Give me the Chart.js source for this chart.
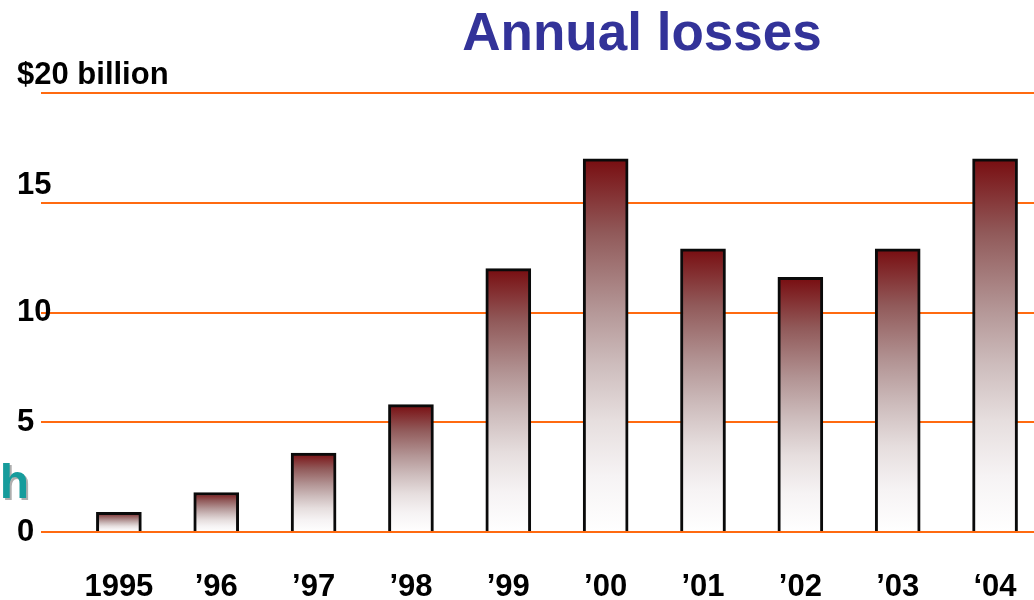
<!DOCTYPE html>
<html>
<head>
<meta charset="utf-8">
<script src="https://cdn.jsdelivr.net/npm/chart.js@4"></script>
<style>
  html, body { margin: 0; padding: 0; background: #fff; }
  #wrap { width: 1034px; height: 600px; }
</style>
</head>
<body>
<div id="wrap"><canvas id="myChart" width="1034" height="600"></canvas></div>
<script>
// data (billions of dollars)
const years = ['1995', '\u201996', '\u201997', '\u201998', '\u201999', '\u201900', '\u201901', '\u201902', '\u201903', '\u201804']
const losses = [0.9, 1.8, 3.6, 5.8, 12.0, 17.0, 12.9, 11.6, 12.9, 17.0]
const yTicks = [0, 5, 10, 15, 20]
const yTickLabels = ['0', '5', '10', '15', '$20 billion']
const titleText = 'Annual losses'
const sideText = 'h'

const FONT = '"Liberation Sans", Arial, sans-serif'

// gradient for every bar, dark red on top to white at the base
function barGradient(c) {
  const chart = c.chart
  const area = chart.chartArea
  if (!area || !c.parsed) return '#c4aeae'
  const y = chart.scales.y
  const top = y.getPixelForValue(c.parsed.y)
  const bottom = y.getPixelForValue(0)
  const g = chart.ctx.createLinearGradient(0, top, 0, bottom)
  g.addColorStop(0, '#780d10')
  g.addColorStop(0.2, '#915a5a')
  g.addColorStop(0.4, '#b39595')
  g.addColorStop(0.55, '#cdbcbc')
  g.addColorStop(0.7, '#e6dede')
  g.addColorStop(0.85, '#f6f3f4')
  g.addColorStop(1, '#ffffff')
  return g
}

// title and the cut-off word on the left
const extraText = {
  id: 'extraText',
  afterDraw(chart) {
    const ctx = chart.ctx
    ctx.save()
    ctx.font = 'bold 53px ' + FONT
    ctx.fillStyle = '#333399'
    ctx.textAlign = 'center'
    ctx.textBaseline = 'alphabetic'
    ctx.fillText(titleText, 642, 50)

    ctx.font = 'bold 48px ' + FONT
    ctx.textAlign = 'right'
    ctx.shadowColor = 'rgba(120,120,120,0.6)'
    ctx.shadowOffsetX = 2
    ctx.shadowOffsetY = 2
    ctx.fillStyle = '#169c9c'
    ctx.fillText(sideText, 29, 498)
    ctx.restore()
  }
}

new Chart(document.getElementById('myChart'), {
  type: 'bar',
  data: {
    datasets: [{
      data: losses.map((v, i) => ({x: i, y: v})),
      backgroundColor: barGradient,
      borderColor: '#0a0a0a',
      borderWidth: 3,
      borderSkipped: 'bottom',
      barThickness: 45
    }]
  },
  plugins: [extraText],
  options: {
    responsive: false,
    animation: false,
    layout: { padding: { top: 93, left: 16, right: 0, bottom: 0 } },
    plugins: {
      legend: { display: false },
      tooltip: { enabled: false }
    },
    scales: {
      x: {
        type: 'linear',
        offset: false,
        min: -0.8,
        max: 9.4,
        grid: { display: false, drawTicks: false, offset: false },
        border: { display: false },
        ticks: {
          stepSize: 1,
          includeBounds: false,
          autoSkip: false,
          maxRotation: 0,
          padding: 37,
          color: '#000',
          font: { family: FONT, size: 31, weight: 'bold' },
          callback: (v) => years[v] ?? ''
        },
        afterFit(scale) {
          scale.height = 68
          scale.paddingLeft = 0
          scale.paddingRight = 0
        }
      },
      y: {
        min: 0,
        max: 20,
        afterBuildTicks(scale) {
          scale.ticks = yTicks.map(v => ({value: v}))
        },
        grid: { color: '#ff6a10', lineWidth: 2, drawTicks: false },
        border: { display: false },
        ticks: {
          mirror: true,
          padding: -24,
          color: '#000',
          font: { family: FONT, size: 31, weight: 'bold', lineHeight: 1.1 },
          callback: (v) => {
            const label = yTickLabels[yTicks.indexOf(v)]
            // the two top labels sit above their line
            return v >= 15 ? [label, ''] : label
          }
        },
        afterFit(scale) {
          scale.width = 25
        }
      }
    }
  }
})
</script>
</body>
</html>
